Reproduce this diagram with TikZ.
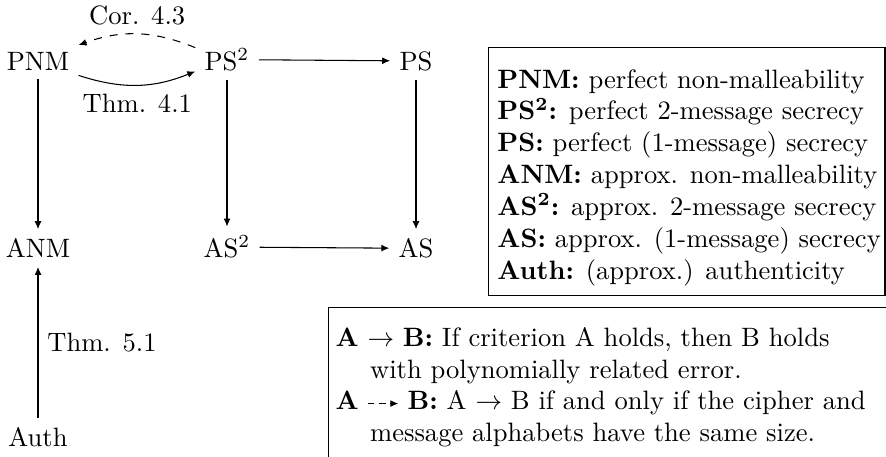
\documentclass[tikz,border=0pt]{standalone}
\usetikzlibrary{arrows.meta}
\newcommand{\myDashArr}{\tikz[baseline=-0.55ex]\draw[dash pattern=on 2.4pt off 1.8pt,-{Latex[length=3pt,width=2.6pt]}] (0,0) -- (0.40,0);}
\begin{document}
\begin{tikzpicture}[
  crit/.style={anchor=base, inner sep=3.33pt},
  impl/.style={-{Latex[length=3pt,width=2.6pt]}},
  lgbox/.style={draw, anchor=north west, inner sep=0pt},
  lgtext/.style={anchor=north west, inner sep=0pt, align=left},
  lbl/.style={inner sep=3.33pt}
]
\useasboundingbox (-0.503,0.807) rectangle (11.217,-5.238);
\clip (-0.503,0.807) rectangle (11.217,-5.238);

\node[crit] (PNM) at (0,-0.12) {PNM};
\node[crit] (PS2) at (2.5,-0.12) {PS$^2$};
\node[crit] (PS)  at (5,-0.12) {PS};
\node[crit] (ANM) at (0,-2.6) {ANM};
\node[crit] (AS2) at (2.5,-2.6) {AS$^2$};
\node[crit] (AS)  at (5,-2.6) {AS};
\node[crit] (Auth) at (0,-5.1) {Auth};

\draw[impl] (PS2) -- (PS);
\draw[impl] (AS2) -- (AS);
\draw[impl] (PNM) -- (ANM);
\draw[impl] (PS2) -- (AS2);
\draw[impl] (PS) -- (AS);
\draw[impl] (Auth) -- node[lbl, right] (t51) {Thm. 5.1} (ANM);
\draw[impl, bend right=20] (PNM) to node[lbl, below] (t41) {Thm. 4.1} (PS2);
\draw[impl, dashed, bend right=21] (PS2) to node[lbl, above] (c43) {Cor. 4.3} (PNM);

\node[lgbox, minimum width=5.251cm, minimum height=3.28cm] (box1) at (5.946,0.185) {};
\node[lgtext] (leg1) at (6.07,-0.103) {%
\textbf{PNM:} perfect non-malleability\\
\textbf{PS\textsuperscript{2}:} perfect 2-message secrecy\\
\textbf{PS:} perfect (1-message) secrecy\\
\textbf{ANM:} approx. non-malleability\\
\textbf{AS\textsuperscript{2}:} approx. 2-message secrecy\\
\textbf{AS:} approx. (1-message) secrecy\\
\textbf{Auth:} (approx.) authenticity};

\node[lgbox, minimum width=9cm, minimum height=3cm] (box2) at (3.836,-3.254) {};
\node[lgtext] (leg2) at (3.929,-3.513) {%
\textbf{A} $\rightarrow$ \textbf{B:} If criterion A holds, then B holds\\
\hspace*{13pt}with polynomially related error.\\
\textbf{A} \myDashArr{} \textbf{B:} A $\rightarrow$ B if and only if the cipher and\\
\hspace*{13pt}message alphabets have the same size.};
\end{tikzpicture}
\end{document}
